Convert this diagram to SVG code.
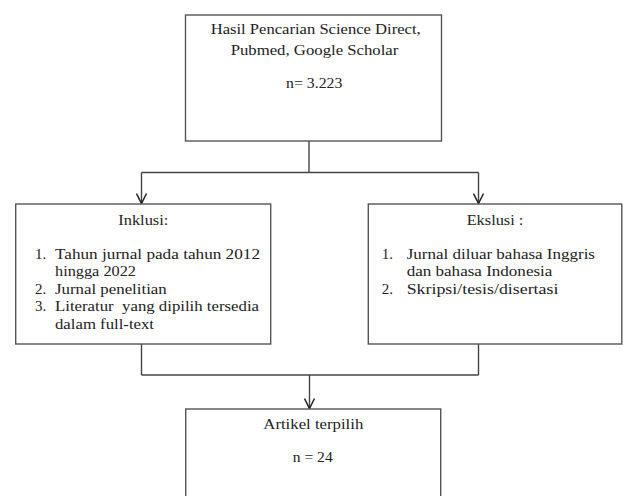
<svg xmlns="http://www.w3.org/2000/svg" width="623" height="496" viewBox="0 0 623 496">
<style>
.box{fill:#fff;stroke:#555;stroke-width:1.4}
.ln{fill:none;stroke:#444;stroke-width:1.4}
text{font-family:"Liberation Serif","DejaVu Serif",serif;font-size:15px;fill:#222}
.c{text-anchor:middle}
</style>
<defs>
<marker id="arr" viewBox="0 0 12 12" refX="11" refY="6" markerWidth="12" markerHeight="12" markerUnits="userSpaceOnUse" orient="auto">
<path d="M1,1 L11,6 L1,11" fill="none" stroke="#222" stroke-width="1.5"/>
</marker>
</defs>
<rect width="623" height="496" fill="#fff"/>
<g id="connectors">
<line class="ln" x1="309" y1="141" x2="309" y2="172.5"/>
<line class="ln" x1="141.5" y1="172.5" x2="478.5" y2="172.5"/>
<line class="ln" x1="141.5" y1="172.5" x2="141.5" y2="203.5" marker-end="url(#arr)"/>
<line class="ln" x1="478.5" y1="172.5" x2="478.5" y2="203.5" marker-end="url(#arr)"/>
<line class="ln" x1="141.5" y1="344" x2="141.5" y2="375"/>
<line class="ln" x1="478.5" y1="344" x2="478.5" y2="375"/>
<line class="ln" x1="141.5" y1="375" x2="478.5" y2="375"/>
<line class="ln" x1="309.5" y1="375" x2="309.5" y2="408.5" marker-end="url(#arr)"/>
</g>
<g id="search">
<rect class="box" x="185.5" y="15" width="256" height="126"/>
<text class="c" x="315.7" y="34.3" textLength="210" lengthAdjust="spacingAndGlyphs">Hasil Pencarian Science Direct,</text>
<text class="c" x="314.5" y="54.5" textLength="167.7" lengthAdjust="spacingAndGlyphs">Pubmed, Google Scholar</text>
<text class="c" x="314.2" y="88.3" textLength="56.3" lengthAdjust="spacingAndGlyphs">n= 3.223</text>
</g>
<g id="inklusi">
<rect class="box" x="15.7" y="204" width="255" height="140"/>
<text class="c" x="143.3" y="225" textLength="50" lengthAdjust="spacingAndGlyphs">Inklusi:</text>
<text x="35" y="258.5">1.</text>
<text x="55" y="258.5" textLength="205" lengthAdjust="spacingAndGlyphs">Tahun jurnal pada tahun 2012</text>
<text x="55" y="276" textLength="81" lengthAdjust="spacingAndGlyphs">hingga 2022</text>
<text x="35" y="293.5">2.</text>
<text x="55" y="293.5" textLength="111.7" lengthAdjust="spacingAndGlyphs">Jurnal penelitian</text>
<text x="35" y="311">3.</text>
<text x="55" y="311" textLength="204" lengthAdjust="spacingAndGlyphs" xml:space="preserve">Literatur  yang dipilih tersedia</text>
<text x="55" y="328.5" textLength="99" lengthAdjust="spacingAndGlyphs">dalam full-text</text>
</g>
<g id="eksklusi">
<rect class="box" x="368.3" y="204" width="253.5" height="140"/>
<text class="c" x="495" y="225" textLength="56.7" lengthAdjust="spacingAndGlyphs" xml:space="preserve">Ekslusi :</text>
<text x="381.7" y="258.5">1.</text>
<text x="406.7" y="258.5" textLength="188.3" lengthAdjust="spacingAndGlyphs">Jurnal diluar bahasa Inggris</text>
<text x="406.7" y="276" textLength="145.7" lengthAdjust="spacingAndGlyphs">dan bahasa Indonesia</text>
<text x="381.7" y="294">2.</text>
<text x="406.7" y="294" textLength="151.7" lengthAdjust="spacingAndGlyphs">Skripsi/tesis/disertasi</text>
</g>
<g id="artikel">
<rect class="box" x="185.7" y="409" width="255" height="100"/>
<text class="c" x="313.3" y="429.3" textLength="100" lengthAdjust="spacingAndGlyphs">Artikel terpilih</text>
<text class="c" x="312.7" y="462.3" textLength="40" lengthAdjust="spacingAndGlyphs">n = 24</text>
</g>
</svg>
